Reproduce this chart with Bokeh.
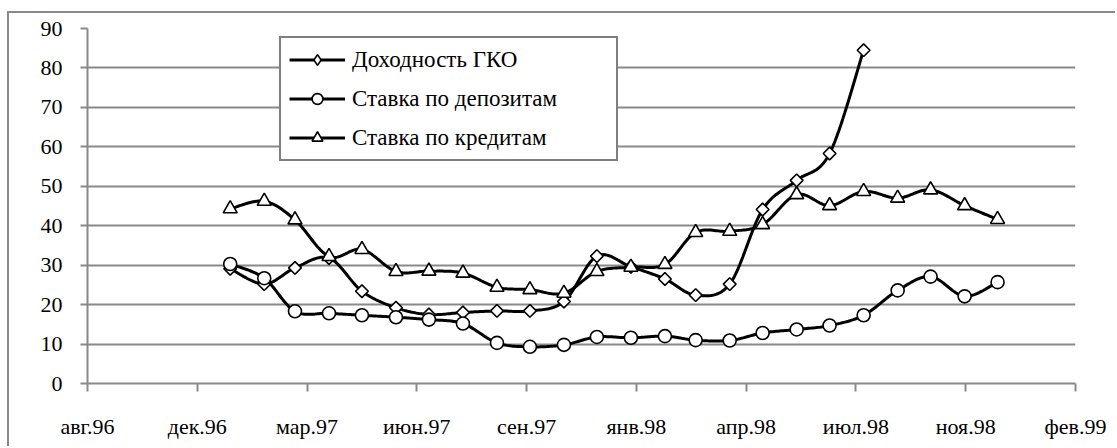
import numpy as np
import pandas as pd
from bokeh.plotting import figure
from bokeh.models import Range1d, FixedTicker, Legend, LegendItem
from bokeh.embed import file_html
from bokeh.resources import INLINE

# ---------------- data ----------------
months = ["1997-01-01", "1997-02-01", "1997-03-01", "1997-04-01", "1997-05-01", "1997-06-01",
          "1997-07-01", "1997-08-01", "1997-09-01", "1997-10-01", "1997-11-01", "1997-12-01",
          "1998-01-01", "1998-02-01", "1998-03-01", "1998-04-01", "1998-05-01", "1998-06-01",
          "1998-07-01", "1998-08-01", "1998-09-01", "1998-10-01", "1998-11-01", "1998-12-01"]

gko_yield = [29.1, 25.2, 29.3, 31.8, 23.4, 19.2, 17.5, 18.0, 18.4, 18.4,
             20.8, 32.3, 29.6, 26.5, 22.4, 25.2, 44.1, 51.5, 58.3, 84.5]
deposit_rate = [30.3, 26.7, 18.3, 17.8, 17.3, 16.8, 16.2, 15.2, 10.3, 9.3, 9.8, 11.8,
                11.6, 12.0, 11.0, 10.9, 12.8, 13.7, 14.7, 17.3, 23.6, 27.1, 22.1, 25.7]
credit_rate = [44.3, 46.2, 41.5, 32.2, 34.0, 28.4, 28.5, 28.0, 24.4, 23.8, 22.9, 28.4,
               29.5, 30.2, 38.3, 38.6, 40.3, 47.9, 45.1, 48.7, 47.0, 49.1, 45.1, 41.6]

series_names = ["Доходность ГКО", "Ставка по депозитам", "Ставка по кредитам"]

tick_labels = ["авг.96", "дек.96", "мар.97", "июн.97", "сен.97",
               "янв.98", "апр.98", "июл.98", "ноя.98", "фев.99"]
axis_start = "1996-08-24"
tick_step_days = 100
y_ticks = list(range(0, 91, 10))

# ---------------- helpers ----------------
start = pd.Timestamp(axis_start)
x_all = [(pd.Timestamp(m) - start).days for m in months]
x_ticks = [i * tick_step_days for i in range(len(tick_labels))]


def smooth(xs, ys, n=20):
    """Excel-like smoothed line (Catmull-Rom cubic Bezier through the points)."""
    xs = np.asarray(xs, float)
    ys = np.asarray(ys, float)
    px = np.concatenate([[xs[0]], xs, [xs[-1]]])
    py = np.concatenate([[ys[0]], ys, [ys[-1]]])
    ox, oy = [xs[0]], [ys[0]]
    t = np.linspace(0, 1, n + 1)[1:]
    for i in range(len(xs) - 1):
        x0, x1, x2, x3 = px[i], px[i + 1], px[i + 2], px[i + 3]
        y0, y1, y2, y3 = py[i], py[i + 1], py[i + 2], py[i + 3]
        cx1, cy1 = x1 + (x2 - x0) / 6, y1 + (y2 - y0) / 6
        cx2, cy2 = x2 - (x3 - x1) / 6, y2 - (y3 - y1) / 6
        a = (1 - t) ** 3
        b = 3 * (1 - t) ** 2 * t
        c = 3 * (1 - t) * t ** 2
        d = t ** 3
        ox.extend(a * x1 + b * cx1 + c * cx2 + d * x2)
        oy.extend(a * y1 + b * cy1 + c * cy2 + d * y2)
    return ox, oy


FONT = "Liberation Serif"
GRID = "#898989"

# canvas origin placed at (9, 13) of the page by the margins + 2px border
p = figure(width=1108, height=435, output_backend="svg", toolbar_location=None,
           x_range=Range1d(0, x_ticks[-1]), y_range=Range1d(0, 90),
           min_border_left=78, min_border_right=42, min_border_top=15, min_border_bottom=65,
           styles={"margin-left": "7px", "margin-top": "11px",
                   "border-left": "2px solid #898989", "border-top": "2px solid #898989"})
p.outline_line_color = None
p.background_fill_color = "white"
p.border_fill_color = "white"

# x axis
p.xaxis.ticker = FixedTicker(ticks=x_ticks)
p.xaxis.major_label_overrides = {t: lbl for t, lbl in zip(x_ticks, tick_labels)}
p.xaxis.axis_line_color = GRID
p.xaxis.axis_line_width = 2
p.xaxis.major_tick_line_color = GRID
p.xaxis.major_tick_line_width = 2
p.xaxis.major_tick_out = 8
p.xaxis.major_tick_in = 0
p.xaxis.minor_tick_line_color = None
p.xaxis.major_label_standoff = 22
p.xaxis.major_label_text_font = FONT
p.xaxis.major_label_text_font_size = "22px"
p.xaxis.major_label_text_color = "black"

# y axis
p.yaxis.ticker = FixedTicker(ticks=y_ticks)
p.yaxis.axis_line_color = GRID
p.yaxis.axis_line_width = 2
p.yaxis.major_tick_line_color = GRID
p.yaxis.major_tick_line_width = 2
p.yaxis.major_tick_out = 7
p.yaxis.major_tick_in = 0
p.yaxis.minor_tick_line_color = None
p.yaxis.major_label_standoff = 18
p.yaxis.major_label_text_font = FONT
p.yaxis.major_label_text_font_size = "22px"
p.yaxis.major_label_text_color = "black"

p.xgrid.visible = False
p.ygrid.ticker = FixedTicker(ticks=y_ticks[1:])
p.ygrid.grid_line_color = GRID
p.ygrid.grid_line_width = 2

items = []
marker_specs = [
    dict(marker="square", angle=np.pi / 4, size=9, legend_marker="diamond"),
    dict(marker="circle", angle=0.0, size=13, legend_marker=None),
    dict(marker="triangle", angle=0.0, size=14, legend_marker=None),
]
for name, vals, spec in zip(series_names, [gko_yield, deposit_rate, credit_rate], marker_specs):
    xs = x_all[:len(vals)]
    sx, sy = smooth(xs, vals)
    lr = p.line(sx, sy, line_color="black", line_width=3)
    leg_r = None
    if spec["legend_marker"]:
        # upright diamond, fully covered by the rotated square drawn on top of it;
        # it provides the diamond glyph shown in the legend
        leg_r = p.scatter(xs, vals, marker=spec["legend_marker"], size=11,
                          fill_color="white", line_color="black", line_width=1.6)
    sr = p.scatter(xs, vals, marker=spec["marker"], angle=spec["angle"], size=spec["size"],
                   fill_color="white", line_color="black", line_width=1.6)
    items.append(LegendItem(label=name, renderers=[lr, leg_r if leg_r is not None else sr]))

legend = Legend(items=items, location=(192, 222))
legend.border_line_color = "black"
legend.border_line_width = 2
legend.background_fill_color = "white"
legend.background_fill_alpha = 1
legend.padding = 8
legend.spacing = 12
legend.margin = 0
legend.glyph_width = 56
legend.glyph_height = 27
legend.label_height = 24
legend.label_width = 256
legend.label_standoff = 7
legend.label_text_font = FONT
legend.label_text_font_size = "23px"
legend.label_text_color = "black"
p.add_layout(legend)

open("out.html", "w").write(file_html(p, INLINE))
